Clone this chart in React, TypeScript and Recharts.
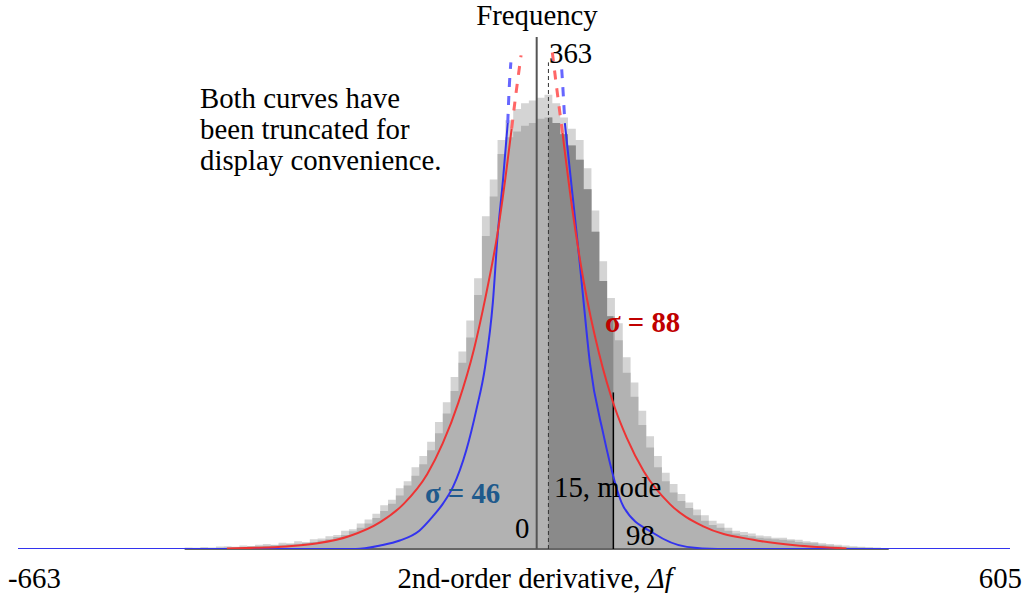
import React from 'react'
import { ComposedChart, Area, Line, XAxis, YAxis, ReferenceLine } from 'recharts'

// histogram of the 2nd-order derivative, bins of 10 starting at -450
const BIN_START = -450
const BIN_WIDTH = 10
const counts = [
  0.4, 0.5, 0.6, 0.7, 0.8, 1, 1.2, 1.4, 1.7, 2,
  2.3, 2.6, 3, 3.4, 3.8, 4.3, 5, 6, 7, 8.5,
  10, 12.5, 15, 18, 22, 27, 32, 38, 45, 52,
  60, 70, 82, 96, 112, 132, 150, 180, 222, 250,
  280, 292, 296, 300, 302, 305, 306, 302, 294, 286,
  276, 255, 225, 190, 165, 148, 125, 108, 88, 72,
  58, 48, 40, 34, 29, 24, 20, 17, 15, 13,
  11, 10, 9, 8, 7.5, 7, 6.5, 6, 5, 4.5,
  4, 3, 2.5, 2, 1.5, 1.2, 1, 0.8, 0.5, 0.3,
]
// lighter noisy tops of the bins
const spikes = [
  1, 0.8, 1.5, 1, 1.8, 2, 1.6, 2.5, 2.2, 3,
  3.5, 3, 4.5, 4, 5.5, 5, 7, 7.5, 9, 10,
  13, 14, 18, 21, 25, 31, 35, 43, 48, 58,
  66, 76, 90, 104, 122, 140, 162, 192, 236, 262,
  290, 304, 312, 316, 318, 320, 322, 316, 306, 298,
  290, 270, 240, 204, 178, 160, 136, 118, 98, 80,
  66, 54, 46, 39, 33, 28, 24, 20, 18, 15,
  13, 12, 11, 9.5, 9, 8, 8, 7, 6.5, 5.5,
  5, 4, 3.5, 3, 2.5, 2, 1.6, 1.2, 1, 0.6,
]

const MODE = 15
const MARK = 98
const PEAK = 363

// sigma = 88 curve (truncated at the top)
const redX = [-396, -360, -320, -280, -240, -200, -170, -140, -120, -100, -80, -66, -50, -40, -32, -26, -20, 20, 26, 33, 45, 60, 80, 100, 115, 137, 170, 213, 277, 330, 396]
const redY = [0.3, 0.8, 1.8, 4, 9, 19, 32, 53, 75, 104, 142, 177, 224, 263, 298, 325, 350, 352, 325, 295, 243, 190, 138, 100, 79, 55, 32, 16, 6.5, 2.6, 0.4]
const RED_CUT = 32

// sigma = 46 curve (truncated at the top)
const blueX = [-663, -231, -200, -175, -150, -133, -120, -107, -90, -77, -66, -56, -50, -43, -37, -35, -33, 32, 34, 36, 46, 55, 60, 68, 85, 111, 150, 192, 231, 605]
const blueY = [0, 0, 2.5, 6, 13, 23, 32, 44, 70, 99, 129, 175, 222, 262, 302, 328, 345, 340, 322, 302, 250, 203, 175, 132, 82, 30, 11, 1.5, 0, 0]
const BLUE_CUT = 36

const hist = counts.map((c, i) => ({ x: BIN_START + i * BIN_WIDTH, count: c }))
hist.push({ x: BIN_START + counts.length * BIN_WIDTH, count: 0 })
const histTop = spikes.map((c, i) => ({ x: BIN_START + i * BIN_WIDTH, count: c }))
histTop.push({ x: BIN_START + spikes.length * BIN_WIDTH, count: 0 })

const countAt = (v: number) => counts[Math.floor((v - BIN_START) / BIN_WIDTH)]
const band = [
  { x: MODE, count: countAt(MODE) },
  ...hist.filter(d => d.x > MODE && d.x < MARK),
  { x: MARK, count: countAt(MARK) },
]

function split(xs: number[], ys: number[], cut: number) {
  const pts = xs.map((x, i) => ({ x, y: ys[i] }))
  const solid = [
    ...pts.filter(p => p.x <= -cut),
    { x: 0, y: null },
    ...pts.filter(p => p.x >= cut),
  ]
  const dashed = [
    ...pts.filter(p => p.x < 0 && p.x >= -cut - 1),
    { x: 0, y: null },
    ...pts.filter(p => p.x > 0 && p.x <= cut + 1),
  ]
  return { solid, dashed }
}

const red = split(redX, redY, RED_CUT)
const blue = split(blueX, blueY, BLUE_CUT)

const FONT = '"Liberation Serif", Tinos, "Times New Roman", serif'
const FS = 28.8

const EndTick = (props: any) => {
  const { x, y, payload } = props
  const first = payload.value < 0
  return (
    <text x={first ? x - 10 : x + 12} y={y + 31} textAnchor={first ? 'start' : 'end'}
      style={{ fontFamily: FONT, fontSize: FS }} fill="#000">
      {payload.value}
    </text>
  )
}

export default function App() {
  return (
    <div style={{ position: 'absolute', left: 0, top: 0, width: 1028, height: 593, background: '#fff' }}>
      <ComposedChart width={1028} height={593} margin={{ top: 37, right: 18, bottom: 0, left: 18 }}>
        <XAxis type="number" dataKey="x" domain={[-663, 605]} ticks={[-663, 605]} allowDataOverflow
          axisLine={false} tickLine={false} height={44} tick={<EndTick />} />
        <YAxis type="number" domain={[0, PEAK]} hide allowDataOverflow />
        <Area data={histTop} dataKey="count" type="stepAfter" fill="#d4d4d4" fillOpacity={1} stroke="none" isAnimationActive={false} />
        <Area data={hist} dataKey="count" type="stepAfter" fill="#b2b2b2" fillOpacity={1} stroke="none" isAnimationActive={false} />
        <Area data={band} dataKey="count" type="stepAfter" fill="#8a8a8a" fillOpacity={1} stroke="none" isAnimationActive={false} />
        <ReferenceLine segment={[{ x: BIN_START, y: 0 }, { x: BIN_START + counts.length * BIN_WIDTH, y: 0 }]} stroke="#666" strokeWidth={2} />
        <ReferenceLine segment={[{ x: 0, y: 0 }, { x: 0, y: PEAK }]} stroke="#555" strokeWidth={2} />
        <ReferenceLine segment={[{ x: MODE, y: 0 }, { x: MODE, y: 345 }]} stroke="#333" strokeWidth={1} strokeDasharray="4 3" />
        <ReferenceLine segment={[{ x: MARK, y: 0 }, { x: MARK, y: 111 }]} stroke="#000" strokeWidth={1.5} />
        <Line data={blue.solid} dataKey="y" type="monotone" stroke="#3333ee" strokeWidth={2} dot={false} connectNulls={false} isAnimationActive={false} />
        <Line data={blue.dashed} dataKey="y" type="monotone" stroke="#6666ff" strokeWidth={3} strokeDasharray="9 9" dot={false} connectNulls={false} isAnimationActive={false} />
        <Line data={red.solid} dataKey="y" type="monotone" stroke="#ee3333" strokeWidth={2} dot={false} connectNulls={false} isAnimationActive={false} />
        <Line data={red.dashed} dataKey="y" type="monotone" stroke="#ff6666" strokeWidth={3} strokeDasharray="9 9" dot={false} connectNulls={false} isAnimationActive={false} />
      </ComposedChart>
      <svg width={1028} height={593} style={{ position: 'absolute', left: 0, top: 0, pointerEvents: 'none', fontFamily: FONT, fontSize: FS }}>
        <text x={537} y={25} textAnchor="middle">Frequency</text>
        <text x={549} y={63}>{PEAK}</text>
        <text x={200} y={108}>Both curves have</text>
        <text x={200} y={139}>been truncated for</text>
        <text x={200} y={170}>display convenience.</text>
        <text x={605} y={332} fontWeight="bold" fill="#c00000">σ = 88</text>
        <text x={425} y={503} fontWeight="bold" fill="#1f5a8c">σ = 46</text>
        <text x={554} y={497}>{MODE}, mode</text>
        <text x={515} y={538}>0</text>
        <text x={626} y={545}>{MARK}</text>
        <text x={535} y={588} textAnchor="middle">2nd-order derivative, <tspan fontStyle="italic">Δf</tspan></text>
      </svg>
    </div>
  )
}
